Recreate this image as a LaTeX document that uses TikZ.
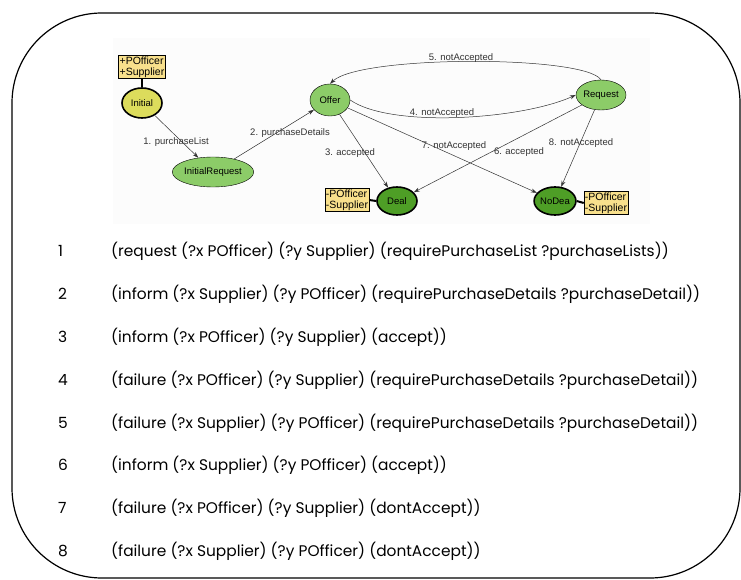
\documentclass[tikz,border=0pt]{standalone}
\usepackage{fontspec}
\setmainfont{Liberation Sans}
\newfontfamily\gothic{Poppins}
\usetikzlibrary{shapes.geometric,arrows.meta}
\definecolor{boxyel}{HTML}{F8E08C}
\definecolor{inityel}{HTML}{DCDC5C}
\definecolor{lgreen}{HTML}{8CCC68}
\definecolor{dgreen}{HTML}{4E9E26}
\definecolor{edgec}{HTML}{333333}
\definecolor{shot}{HTML}{FCFCFC}
\tikzset{
  st/.style={ellipse, draw=black, minimum width=40pt, minimum height=30pt, inner sep=0pt, font=\fontsize{9.5}{9.5}\selectfont},
  thickst/.style={st, line width=1.6pt},
  rolebox/.style={draw=black, fill=boxyel, line width=0.5pt, inner sep=1pt, align=left, font=\fontsize{10.5}{11}\selectfont},
  tr/.style={draw=edgec, line width=0.5pt, -{Stealth[length=6pt,width=4pt]}},
  lbl/.style={font=\fontsize{9.5}{9.5}\selectfont, text=edgec, inner sep=0pt},
  link/.style={line width=2pt},
  num/.style={anchor=west, inner sep=0pt, font=\gothic\fontsize{15.4}{16}\selectfont},
  txt/.style={anchor=west, inner sep=0pt, font=\gothic\fontsize{15.4}{16}\selectfont}
}
\begin{document}
\begin{tikzpicture}[x=1pt,y=-1pt]
\useasboundingbox (0,0) rectangle (741,580);
\fill[shot] (113,38) rectangle (650,224);
\draw[line width=1.2pt, rounded corners=90pt] (12,13) rectangle (740,578);
% states
\node[thickst, fill=inityel] (init) at (142,103) {Initial};
\node[st, fill=lgreen] (ireq) at (213,172) {InitialRequest};
\node[st, fill=lgreen, minimum height=32pt] (offer) at (330,100) {Offer};
\node[st, fill=lgreen] (req) at (601,95) {Request};
\node[thickst, fill=dgreen, minimum height=28pt] (deal) at (397,201) {Deal};
\node[thickst, fill=dgreen, minimum height=28pt] (nodeal) at (555,201) {NoDea};
% role boxes
\node[rolebox] (b1) at (142,67) {+POfficer\\+Supplier};
\node[rolebox] (b2) at (347,200) {-POfficer\\-Supplier};
\node[rolebox] (b3) at (606,203) {-POfficer\\-Supplier};
\draw[link] (b1.south) -- (init.north);
\draw[link] (b2.east) -- (deal.west);
\draw[link] (nodeal.east) -- (b3.west);
% transitions
\draw[tr] (init) -- (ireq);
\draw[tr] (ireq) -- (offer);
\draw[tr] (offer) -- (deal);
\draw[tr] (offer.east) .. controls (390,128) and (520,120) .. (req.west);
\draw[tr] (req.north) .. controls (585,55) and (360,55) .. (offer.north);
\draw[tr] (req) -- (deal);
\draw[tr] (offer) -- (nodeal);
\draw[tr] (req) -- (nodeal);
% labels
\node[lbl] (l1) at (176,142) {1. purchaseList};
\node[lbl] (l2) at (290,133) {2. purchaseDetails};
\node[lbl] (l3) at (350,153) {3. accepted};
\node[lbl] (l4) at (442,113) {4. notAccepted};
\node[lbl] (l5) at (461,58) {5. notAccepted};
\node[lbl] (l6) at (519,152) {6. accepted};
\node[lbl] (l7) at (454,146) {7. notAccepted};
\node[lbl] (l8) at (581,143) {8. notAccepted};
% text lines
\node[num] (n1) at (58,251) {1};
\node[txt] (t1) at (111,251) {(request (?x POfficer) (?y Supplier) (requirePurchaseList ?purchaseLists))};
\node[num] (n2) at (58,294) {2};
\node[txt] (t2) at (111,294) {(inform (?x Supplier) (?y POfficer) (requirePurchaseDetails ?purchaseDetail))};
\node[num] (n3) at (58,337) {3};
\node[txt] (t3) at (111,337) {(inform (?x POfficer) (?y Supplier) (accept))};
\node[num] (n4) at (58,380) {4};
\node[txt] (t4) at (111,380) {(failure (?x POfficer) (?y Supplier) (requirePurchaseDetails ?purchaseDetail))};
\node[num] (n5) at (58,423) {5};
\node[txt] (t5) at (111,423) {(failure (?x Supplier) (?y POfficer) (requirePurchaseDetails ?purchaseDetail))};
\node[num] (n6) at (58,465) {6};
\node[txt] (t6) at (111,465) {(inform (?x Supplier) (?y POfficer) (accept))};
\node[num] (n7) at (58,508) {7};
\node[txt] (t7) at (111,508) {(failure (?x POfficer) (?y Supplier) (dontAccept))};
\node[num] (n8) at (58,551) {8};
\node[txt] (t8) at (111,551) {(failure (?x Supplier) (?y POfficer) (dontAccept))};
\end{tikzpicture}
\end{document}
